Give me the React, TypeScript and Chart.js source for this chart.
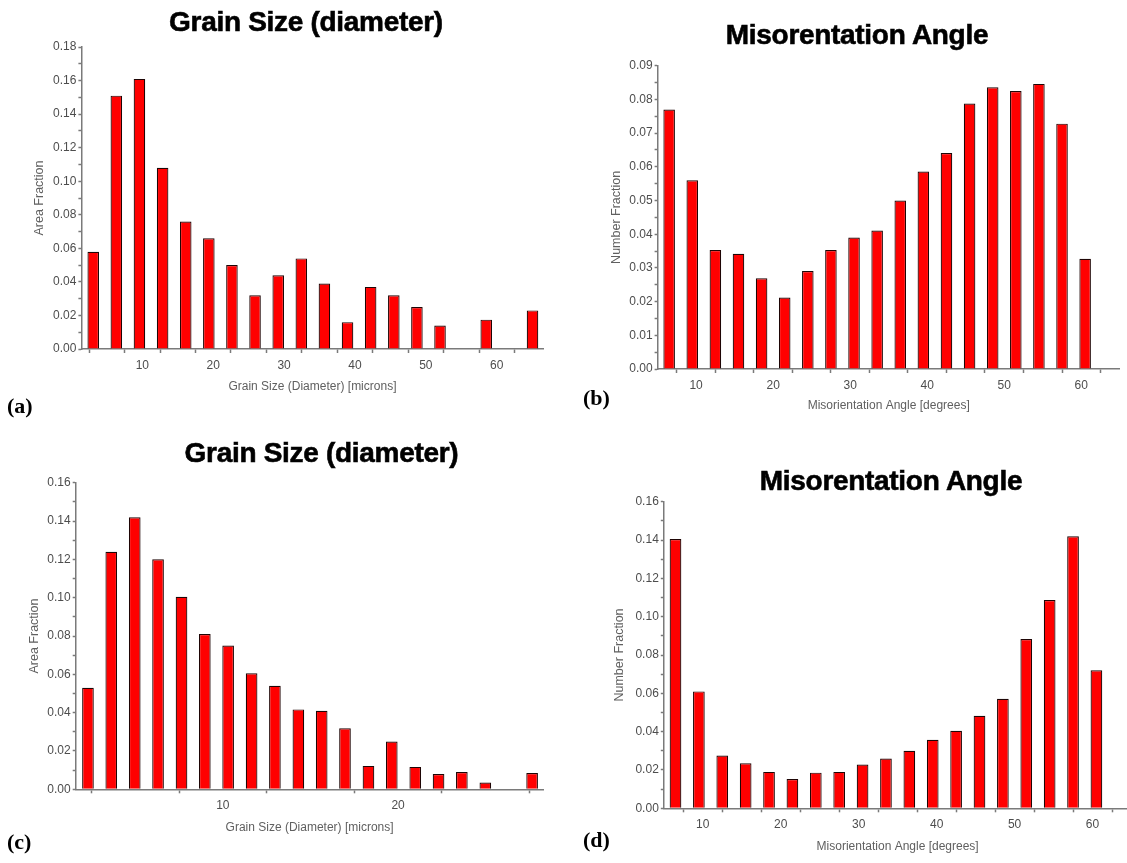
import React, { useEffect, useRef } from "react";
import { Chart, registerables } from "chart.js";

Chart.register(...registerables);

// ---------- data ----------
const grainCentersA = [3.07, 6.33, 9.59, 12.86, 16.12, 19.38, 22.64, 25.9, 29.17, 32.43, 35.69, 38.95, 42.21, 45.48, 48.74, 52.0, 55.26, 58.52, 61.79, 65.05];
const grainFractionA = [0.058, 0.151, 0.161, 0.108, 0.076, 0.066, 0.05, 0.032, 0.044, 0.054, 0.039, 0.016, 0.037, 0.032, 0.025, 0.014, 0, 0.0175, 0, 0.023];

const misoCentersB = [6.5, 9.5, 12.5, 15.5, 18.5, 21.5, 24.5, 27.5, 30.5, 33.5, 36.5, 39.5, 42.5, 45.5, 48.5, 51.5, 54.5, 57.5, 60.5];
const misoFractionB = [0.077, 0.056, 0.0353, 0.0342, 0.0269, 0.0212, 0.0291, 0.0353, 0.039, 0.0411, 0.05, 0.0586, 0.0641, 0.0788, 0.0836, 0.0825, 0.0846, 0.0728, 0.0327];

const grainCentersC = [2.3, 3.63, 4.97, 6.3, 7.64, 8.97, 10.3, 11.64, 12.97, 14.31, 15.64, 16.97, 18.31, 19.64, 20.98, 22.31, 23.64, 24.98, 26.31, 27.65];
const grainFractionC = [0.053, 0.124, 0.142, 0.12, 0.1005, 0.081, 0.075, 0.0605, 0.054, 0.0417, 0.041, 0.0318, 0.0122, 0.0249, 0.0117, 0.008, 0.009, 0.0035, 0, 0.0085];

const misoCentersD = [6.5, 9.5, 12.5, 15.5, 18.5, 21.5, 24.5, 27.5, 30.5, 33.5, 36.5, 39.5, 42.5, 45.5, 48.5, 51.5, 54.5, 57.5, 60.5];
const misoFractionD = [0.1405, 0.061, 0.0275, 0.0235, 0.019, 0.0153, 0.0186, 0.019, 0.0228, 0.026, 0.03, 0.0358, 0.0405, 0.0483, 0.0572, 0.0883, 0.1087, 0.142, 0.072];

const panelLetters = ["(a)", "(b)", "(c)", "(d)"];
const chartTitles = ["Grain Size (diameter)", "Misorentation Angle", "Grain Size (diameter)", "Misorentation Angle"];
const xAxisTitles = ["Grain Size (Diameter) [microns]", "Misorientation Angle [degrees]", "Grain Size (Diameter) [microns]", "Misorientation Angle [degrees]"];
const yAxisTitles = ["Area Fraction", "Number Fraction", "Area Fraction", "Number Fraction"];

// ---------- styling / layout ----------
const AXIS = "#7a7a7a";
const TICK_TEXT = "#4d4d4d";
const TITLE_TEXT = "#606060";
const SANS = "'Liberation Sans', Arial, sans-serif";

type Spec = {
  centers: number[];
  values: number[];
  xTitle: string;
  yTitle: string;
  xMin: number;
  xMax: number;
  yMax: number;
  yStep: number;
  canvas: { left: number; top: number; width: number; height: number };
  pad: { top: number; right: number; bottom: number };
  yWidth: number;
  xHeight: number;
  yTitlePad: number;
};

const specs: Spec[] = [
  {
    centers: grainCentersA, values: grainFractionA, xTitle: xAxisTitles[0], yTitle: yAxisTitles[0],
    xMin: 1.4, xMax: 66.6, yMax: 0.18, yStep: 0.01,
    canvas: { left: 0, top: 30, width: 560, height: 370 },
    pad: { top: 17, right: 16.5, bottom: 5.8 }, yWidth: 81.4, xHeight: 45.2, yTitlePad: 32.1,
  },
  {
    centers: misoCentersB, values: misoFractionB, xTitle: xAxisTitles[1], yTitle: yAxisTitles[1],
    xMin: 5, xMax: 65, yMax: 0.09, yStep: 0.005,
    canvas: { left: 580, top: 50, width: 547, height: 370 },
    pad: { top: 15.7, right: 7.2, bottom: 6.8 }, yWidth: 77.6, xHeight: 44.2, yTitlePad: 28.8,
  },
  {
    centers: grainCentersC, values: grainFractionC, xTitle: xAxisTitles[2], yTitle: yAxisTitles[2],
    xMin: 1.6, xMax: 28.3, yMax: 0.16, yStep: 0.01,
    canvas: { left: 0, top: 465, width: 560, height: 385 },
    pad: { top: 17.7, right: 16.5, bottom: 14.8 }, yWidth: 75.7, xHeight: 45.9, yTitlePad: 26.8,
  },
  {
    centers: misoCentersD, values: misoFractionD, xTitle: xAxisTitles[3], yTitle: yAxisTitles[3],
    xMin: 5, xMax: 65, yMax: 0.16, yStep: 0.01,
    canvas: { left: 580, top: 485, width: 560, height: 378 },
    pad: { top: 16.7, right: 8.5, bottom: 9.1 }, yWidth: 83.8, xHeight: 45.6, yTitlePad: 32.5,
  },
];

const titlePos = [
  { cx: 306, top: 8.3 },
  { cx: 857, top: 21.3 },
  { cx: 321.5, top: 439.3 },
  { cx: 891, top: 467.3 },
];

const letterPos = [
  { left: 7, top: 395 },
  { left: 583, top: 387 },
  { left: 7, top: 830.6 },
  { left: 583, top: 828.6 },
];

function HistChart({ spec }: { spec: Spec }) {
  const ref = useRef<HTMLCanvasElement | null>(null);
  useEffect(() => {
    if (!ref.current) return;
    const chart = new Chart(ref.current, {
      type: "bar",
      data: {
        datasets: [
          {
            data: spec.centers.map((x, i) => ({ x, y: spec.values[i] })),
            backgroundColor: "#ff0000",
            borderColor: "#1e0505",
            borderWidth: 1.2,
            categoryPercentage: 1,
            barPercentage: 0.5,
          } as any,
        ],
      },
      options: {
        responsive: false,
        animation: false,
        devicePixelRatio: 1,
        layout: { padding: { left: 0, top: spec.pad.top, right: spec.pad.right, bottom: spec.pad.bottom } },
        plugins: {
          legend: { display: false },
          tooltip: { enabled: false },
          title: { display: false },
        },
        scales: {
          x: {
            type: "linear",
            offset: false,
            min: spec.xMin,
            max: spec.xMax,
            border: { display: true, color: AXIS, width: 1.5 },
            grid: { display: true, drawOnChartArea: false, drawTicks: true, tickLength: 4, tickColor: AXIS, tickWidth: 1.5 },
            ticks: {
              stepSize: 5,
              includeBounds: false,
              autoSkip: false,
              maxRotation: 0,
              minRotation: 0,
              padding: 5,
              color: TICK_TEXT,
              font: { family: SANS, size: 12 },
              callback: (v: any) => {
                const n = Math.round(Number(v));
                return n % 10 === 0 ? String(n) : "";
              },
            },
            title: {
              display: true,
              text: spec.xTitle,
              color: TITLE_TEXT,
              font: { family: SANS, size: 12 },
              padding: { top: 0, bottom: 0 },
            },
            afterFit: (s: any) => {
              s.height = spec.xHeight;
            },
          },
          y: {
            type: "linear",
            min: 0,
            max: spec.yMax,
            border: { display: true, color: AXIS, width: 1.5 },
            grid: { display: true, drawOnChartArea: false, drawTicks: true, tickLength: 3, tickColor: AXIS, tickWidth: 1.5 },
            ticks: {
              stepSize: spec.yStep,
              autoSkip: false,
              padding: 2,
              color: TICK_TEXT,
              font: { family: SANS, size: 12 },
              callback: (v: any) => {
                const k = Math.round(Number(v) / spec.yStep);
                return k % 2 === 0 ? Number(v).toFixed(2) : "";
              },
            },
            title: {
              display: true,
              text: spec.yTitle,
              color: TITLE_TEXT,
              font: { family: SANS, size: 12.5 },
              padding: { top: spec.yTitlePad, bottom: 0 },
            },
            afterFit: (s: any) => {
              s.width = spec.yWidth;
            },
          },
        },
      } as any,
    });
    return () => chart.destroy();
  }, [spec]);

  return (
    <canvas
      ref={ref}
      width={spec.canvas.width}
      height={spec.canvas.height}
      style={{
        position: "absolute",
        left: spec.canvas.left,
        top: spec.canvas.top,
        width: spec.canvas.width,
        height: spec.canvas.height,
      }}
    />
  );
}

export default function App() {
  return (
    <div
      style={{
        position: "absolute",
        left: 0,
        top: 0,
        width: 1127,
        height: 863,
        overflow: "hidden",
        background: "#ffffff",
      }}
    >
      {specs.map((s, i) => (
        <HistChart key={"c" + i} spec={s} />
      ))}
      {chartTitles.map((t, i) => (
        <div
          key={"t" + i}
          style={{
            position: "absolute",
            left: titlePos[i].cx - 300,
            top: titlePos[i].top,
            width: 600,
            textAlign: "center",
            fontFamily: SANS,
            fontWeight: 700,
            fontSize: 28,
            lineHeight: "28px",
            letterSpacing: "-0.3px",
            color: "#000",
            WebkitTextStroke: "0.6px #000",
            whiteSpace: "nowrap",
          }}
        >
          {t}
        </div>
      ))}
      {panelLetters.map((t, i) => (
        <div
          key={"l" + i}
          style={{
            position: "absolute",
            left: letterPos[i].left,
            top: letterPos[i].top,
            fontFamily: "'Liberation Serif', 'Times New Roman', serif",
            fontWeight: 700,
            fontSize: 22,
            lineHeight: "22px",
            color: "#000",
            whiteSpace: "nowrap",
          }}
        >
          {t}
        </div>
      ))}
    </div>
  );
}
